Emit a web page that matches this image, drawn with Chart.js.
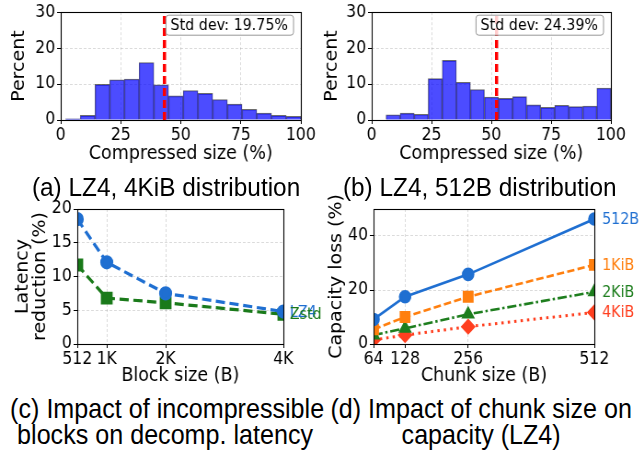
<!DOCTYPE html>
<html>
<head>
<meta charset="utf-8">
<script src="https://cdn.jsdelivr.net/npm/chart.js@4.4.0/dist/chart.umd.min.js"></script>
<style>
  html, body { margin:0; background:#fff; width:644px; height:451px; overflow:hidden; }
  /* the source figure is slightly squeezed sideways, so draw wide and squeeze */
  #fig { position:relative; width:700px; height:451px; background:#fff; transform:scaleX(0.92); transform-origin:0 0; }
  canvas { position:absolute; }
  .cap { position:absolute; font-family:"Liberation Sans", Arial, sans-serif; font-size:26.5px; line-height:26px; white-space:nowrap; color:#000; }
  .cap.big { font-size:27.3px; }
</style>
</head>
<body>
<div id="fig">
  <canvas id="histA" width="350" height="170" style="left:0;top:0"></canvas>
  <canvas id="histB" width="350" height="170" style="left:350px;top:0"></canvas>
  <canvas id="latency" width="350" height="200" style="left:0;top:190px"></canvas>
  <canvas id="capacity" width="350" height="200" style="left:350px;top:190px"></canvas>
  <div class="cap" style="left:0;width:361px;top:174px;text-align:center">(a) LZ4, 4KiB distribution</div>
  <div class="cap" style="left:343px;width:357px;top:174px;text-align:center">(b) LZ4, 512B distribution</div>
  <div class="cap big" style="left:11px;top:396px;text-align:left">(c) Impact of incompressible<br>&nbsp;blocks on decomp. latency</div>
  <div class="cap big" style="left:350px;width:346px;top:396px;text-align:center">(d) Impact of chunk size on<br>capacity (LZ4)</div>
</div>
<script>
Chart.defaults.font.family = '"DejaVu Sans", sans-serif';
Chart.defaults.font.size = 17;
Chart.defaults.color = '#000';
Chart.defaults.animation = false;

// ---- data ----
const histTicks = [0, 25, 50, 75, 100];

const edgesA = [2.0, 8.1, 14.3, 20.4, 26.5, 32.6, 38.8, 44.9, 51.0, 57.1, 63.3, 69.4, 75.5, 81.6, 87.8, 93.9, 100];
const pctA = [0.35, 1.3, 9.9, 11.2, 11.4, 16.0, 9.8, 6.7, 8.2, 7.4, 5.7, 4.4, 3.0, 1.9, 1.3, 1.0];
const meanA = 43.2;
const stdLabelA = 'Std dev: 19.75%';

const edgesB = [6.0, 11.9, 17.8, 23.6, 29.5, 35.4, 41.3, 47.1, 53.0, 58.9, 64.8, 70.6, 76.5, 82.4, 88.3, 94.1, 100];
const pctB = [1.45, 1.9, 1.6, 11.5, 16.6, 10.5, 8.5, 6.4, 6.0, 6.5, 4.2, 3.5, 4.1, 3.7, 3.9, 8.9];
const meanB = 52.2;
const stdLabelB = 'Std dev: 24.39%';

const blockSizes = [512, 1024, 2048, 4096];
const blockLabels = ['512', '1K', '2K', '4K'];
const lz4Reduction = [18.5, 12.1, 7.5, 4.8];
const zstdReduction = [11.7, 6.8, 6.1, 4.4];

const chunkSizes = [64, 128, 256, 512];
const chunkLabels = ['64', '128', '256', '512'];
const capTicks = [0, 20, 40];
const loss512B = [9.1, 17.5, 25.8, 46.3];
const loss1KiB = [5.4, 10.0, 17.5, 29.3];
const loss2KiB = [3.3, 5.8, 11.0, 19.3];
const loss4KiB = [1.5, 3.3, 6.4, 11.7];

// ---- shared bits ----
const gridOpts = {color:'rgba(0,0,0,0.18)', lineWidth:0.8, tickColor:'#000', tickLength:4, tickWidth:1};
const borderOpts = {display:false, dash:[3,2]};
const titleFont = {size:19};

const framePlugin = {
  id:'frame',
  afterDatasetsDraw(chart) {
    const {ctx, chartArea:a} = chart;
    ctx.save();
    ctx.strokeStyle = '#000';
    ctx.lineWidth = 1.1;
    const l = Math.round(a.left) + 0.5, t = Math.round(a.top) + 0.5;
    const r = Math.round(a.right) + 0.5, b = Math.round(a.bottom) + 0.5;
    ctx.strokeRect(l, t, r - l, b - t);
    ctx.restore();
  }
};

const stdBoxPlugin = {
  id:'stdBox',
  afterDatasetsDraw(chart, args, opts) {
    const {ctx, chartArea:a} = chart;
    ctx.save();
    ctx.font = '15.5px "DejaVu Sans"';
    const w = ctx.measureText(opts.text).width + 11, h = 20;
    const x = a.right - 8 - w, y = a.top + 3;
    ctx.beginPath();
    ctx.roundRect(x, y, w, h, 3);
    ctx.fillStyle = 'rgba(255,255,255,0.8)';
    ctx.fill();
    ctx.strokeStyle = 'rgba(140,140,140,0.9)';
    ctx.lineWidth = 1;
    ctx.stroke();
    ctx.fillStyle = '#000';
    ctx.textBaseline = 'middle';
    ctx.fillText(opts.text, x + 5, y + h / 2 + 1);
    ctx.restore();
  }
};

const endLabelPlugin = {
  id:'endLabels',
  afterDatasetsDraw(chart, args, opts) {
    const {ctx} = chart;
    const xs = chart.scales.x, ys = chart.scales.y;
    ctx.save();
    ctx.font = opts.size + 'px "DejaVu Sans"';
    ctx.textBaseline = 'middle';
    ctx.textAlign = 'left';
    chart.data.datasets.forEach(ds => {
      const last = ds.data[ds.data.length - 1];
      ctx.fillStyle = ds.borderColor;
      ctx.fillText(ds.label, xs.getPixelForValue(last.x) + opts.offset, ys.getPixelForValue(last.y) + 1);
    });
    ctx.restore();
  }
};

function xy(xs, ys) { return xs.map((x, i) => ({x:x, y:ys[i]})); }

function histChart(id, edges, pct, mean, label, yW, padRight, titlePad) {
  const bars = pct.map((p, i) => ({x:(edges[i] + edges[i + 1]) / 2, y:p}));
  new Chart(document.getElementById(id), {
    type:'bar',
    data:{datasets:[
      {type:'line', data:[{x:mean, y:0}, {x:mean, y:30}], borderColor:'#ff0000', borderWidth:3.5,
       borderDash:[8,4], pointRadius:0, order:0},
      {type:'bar', data:bars, backgroundColor:'rgba(0,0,255,0.7)', borderColor:'rgba(60,60,60,0.75)',
       borderWidth:{top:1, left:0.7, right:0.7, bottom:0}, barPercentage:1, categoryPercentage:1,
       barThickness:'flex', order:1}
    ]},
    options:{
      responsive:false,
      layout:{padding:{top:10, right:padRight, left:0, bottom:0}},
      plugins:{legend:{display:false}, tooltip:{enabled:false}, stdBox:{text:label}},
      scales:{
        x:{type:'linear', min:0, max:100, offset:false,
           afterBuildTicks:s => { s.ticks = histTicks.map(v => ({value:v})); },
           afterFit:s => { s.height = 50; },
           grid:{...gridOpts, offset:false}, border:borderOpts,
           ticks:{padding:1, maxRotation:0, autoSkip:false},
           title:{display:true, text:'Compressed size (%)', font:titleFont, padding:{top:0, bottom:5}}},
        y:{min:0, max:30, ticks:{stepSize:10, padding:2},
           afterFit:s => { s.width = yW; },
           grid:gridOpts, border:borderOpts,
           title:{display:true, text:'Percent', font:titleFont, padding:{top:titlePad, bottom:0}}}
      }
    },
    plugins:[framePlugin, stdBoxPlugin]
  });
}

histChart('histA', edgesA, pctA, meanA, stdLabelA, 66, 23, 10);
histChart('histB', edgesB, pctB, meanB, stdLabelB, 54, 36, 0);

// (c) latency reduction
new Chart(document.getElementById('latency'), {
  type:'line',
  data:{datasets:[
    {label:'LZ4', data:xy(blockSizes, lz4Reduction), borderColor:'#1f6fd1', backgroundColor:'#1f6fd1',
     borderWidth:3.2, borderDash:[10,5], pointStyle:'circle', pointRadius:5.5, clip:0},
    {label:'Zstd', data:xy(blockSizes, zstdReduction), borderColor:'#1a7a1a', backgroundColor:'#1a7a1a',
     borderWidth:3.2, borderDash:[10,5], pointStyle:'rect', pointRadius:6.8, clip:0}
  ]},
  options:{
    responsive:false,
    layout:{padding:{top:19, right:42, left:0, bottom:0}},
    plugins:{legend:{display:false}, tooltip:{enabled:false}, endLabels:{offset:7, size:15.5}},
    scales:{
      x:{type:'linear', min:512, max:4096,
         afterBuildTicks:s => { s.ticks = blockSizes.map(v => ({value:v})); },
         afterFit:s => { s.height = 46; },
         grid:gridOpts, border:borderOpts,
         ticks:{padding:1, maxRotation:0, autoSkip:false, callback:v => blockLabels[blockSizes.indexOf(v)]},
         title:{display:true, text:'Block size (B)', font:titleFont, padding:{top:0, bottom:3}}},
      y:{min:0, max:20, ticks:{stepSize:5, padding:2},
         afterFit:s => { s.width = 84; },
         grid:gridOpts, border:borderOpts,
         title:{display:true, text:['Latency', 'reduction (%)'], font:{size:19, lineHeight:1.03}, padding:{top:15, bottom:0}}}
    }
  },
  plugins:[framePlugin, endLabelPlugin]
});

// (d) capacity loss
new Chart(document.getElementById('capacity'), {
  type:'line',
  data:{datasets:[
    {label:'512B', data:xy(chunkSizes, loss512B), borderColor:'#1f6fd1', backgroundColor:'#1f6fd1',
     borderWidth:2.6, pointStyle:'circle', pointRadius:5.5, clip:0},
    {label:'1KiB', data:xy(chunkSizes, loss1KiB), borderColor:'#ff7f0e', backgroundColor:'#ff7f0e',
     borderWidth:2.6, borderDash:[8,3.5], pointStyle:'rect', pointRadius:6.5, clip:0},
    {label:'2KiB', data:xy(chunkSizes, loss2KiB), borderColor:'#1e7e1e', backgroundColor:'#1e7e1e',
     borderWidth:2.6, borderDash:[10,3,2.5,3], pointStyle:'triangle', pointRadius:6, clip:0},
    {label:'4KiB', data:xy(chunkSizes, loss4KiB), borderColor:'#ff3f1f', backgroundColor:'#ff3f1f',
     borderWidth:3, borderDash:[2.5,4.5], pointStyle:'rectRot', pointRadius:6, clip:0}
  ]},
  options:{
    responsive:false,
    layout:{padding:{top:19, right:54, left:0, bottom:0}},
    plugins:{legend:{display:false}, tooltip:{enabled:false}, endLabels:{offset:8.5, size:15.5}},
    scales:{
      x:{type:'linear', min:64, max:512,
         afterBuildTicks:s => { s.ticks = chunkSizes.map(v => ({value:v})); },
         afterFit:s => { s.height = 46; },
         grid:gridOpts, border:borderOpts,
         ticks:{padding:1, maxRotation:0, autoSkip:false, callback:v => chunkLabels[chunkSizes.indexOf(v)]},
         title:{display:true, text:'Chunk size (B)', font:titleFont, padding:{top:0, bottom:3}}},
      y:{min:0, max:50,
         afterBuildTicks:s => { s.ticks = capTicks.map(v => ({value:v})); },
         afterFit:s => { s.width = 56; },
         ticks:{padding:2},
         grid:gridOpts, border:borderOpts,
         title:{display:true, text:'Capacity loss (%)', font:titleFont, padding:{top:5, bottom:0}}}
    }
  },
  plugins:[framePlugin, endLabelPlugin]
});
</script>
</body>
</html>
